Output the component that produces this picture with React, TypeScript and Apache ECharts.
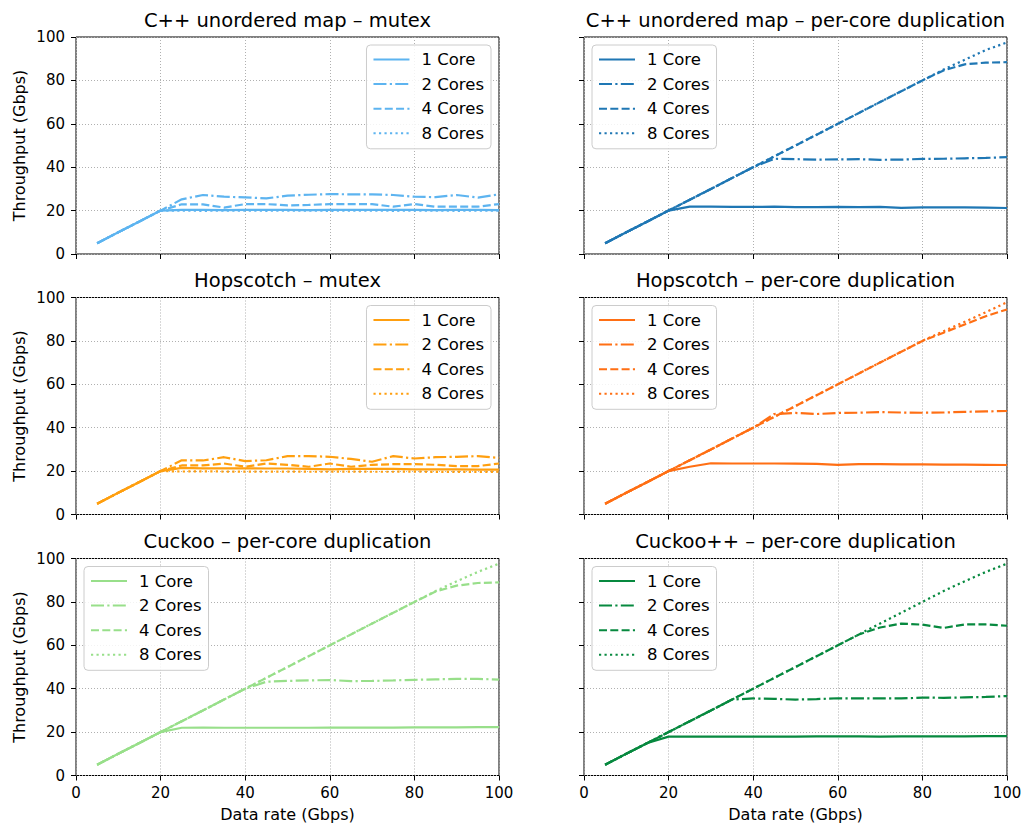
import React, { useEffect, useRef } from "react";
import * as echarts from "echarts";

const dataRates = [5, 10, 15, 20, 25, 30, 35, 40, 45, 50, 55, 60, 65, 70, 75, 80, 85, 90, 95, 100];
const coreLabels = ["1 Core", "2 Cores", "4 Cores", "8 Cores"];

const titles = [
  "C++ unordered map – mutex",
  "C++ unordered map – per-core duplication",
  "Hopscotch – mutex",
  "Hopscotch – per-core duplication",
  "Cuckoo – per-core duplication",
  "Cuckoo++ – per-core duplication",
];

const colors = ["#5db4f0", "#1f77b4", "#ff9f0f", "#ff6f14", "#98df8a", "#07893f"];

// C++ unordered map – mutex
const cppMutex1 = [5, 10, 15, 20, 20.3, 20.3, 20.2, 20.3, 20.3, 20.3, 20.2, 20.3, 20.3, 20.3, 20.3, 20.3, 20.2, 20.3, 20.3, 20.2];
const cppMutex2 = [5, 10, 15, 20, 25.2, 27.2, 26.4, 26.1, 25.6, 26.9, 27.3, 27.6, 27.5, 27.5, 27.2, 26.4, 26.2, 27.2, 26.0, 27.5];
const cppMutex4 = [5, 10, 15, 20, 22.9, 22.9, 21.4, 23.0, 23.0, 22.4, 22.6, 23.0, 23.0, 23.0, 21.8, 23.0, 21.8, 21.8, 21.8, 23.0];
const cppMutex8 = [5, 10, 15, 20, 20.0, 19.9, 20.0, 20.0, 19.9, 20.0, 20.0, 19.9, 20.0, 20.0, 19.9, 20.0, 20.0, 19.9, 20.0, 20.0];

// C++ unordered map – per-core duplication
const cppDup1 = [5, 10, 15, 20, 21.8, 21.8, 21.7, 21.7, 21.8, 21.6, 21.6, 21.7, 21.6, 21.7, 21.3, 21.5, 21.5, 21.5, 21.4, 21.2];
const cppDup2 = [5, 10, 15, 20, 25, 30, 35, 40, 43.9, 43.7, 43.5, 43.6, 43.7, 43.4, 43.5, 43.8, 43.9, 44.1, 44.3, 44.6];
const cppDup4 = [5, 10, 15, 20, 25, 30, 35, 40, 45, 50, 55, 60, 65, 70, 75, 80, 84.6, 87.4, 88.2, 88.4];
const cppDup8 = [5, 10, 15, 20, 25, 30, 35, 40, 45, 50, 55, 60, 65, 70, 75, 80, 85, 89.5, 94, 97.5];

// Hopscotch – mutex
const hopMutex1 = [5, 10, 15, 20, 21.5, 21.3, 21.3, 21.3, 21.2, 21.2, 21.0, 20.8, 21.0, 21.0, 21.0, 20.8, 20.8, 20.8, 20.7, 20.7];
const hopMutex2 = [5, 10, 15, 20, 25.0, 24.9, 26.4, 24.6, 25.0, 26.9, 26.9, 26.6, 25.6, 24.3, 26.9, 25.8, 26.4, 26.6, 26.9, 26.1];
const hopMutex4 = [5, 10, 15, 20, 22.6, 22.6, 23.5, 22.0, 23.5, 22.9, 22.0, 23.5, 22.0, 22.9, 23.2, 23.2, 22.9, 22.3, 22.3, 23.5];
const hopMutex8 = [5, 10, 15, 20, 19.8, 19.9, 19.8, 19.8, 19.7, 19.8, 19.7, 19.7, 19.8, 19.7, 19.7, 19.8, 19.6, 19.6, 19.6, 19.7];

// Hopscotch – per-core duplication
const hopDup1 = [5, 10, 15, 20, 22.0, 23.6, 23.5, 23.5, 23.5, 23.4, 23.3, 22.9, 23.2, 23.2, 23.1, 23.1, 23.0, 23.0, 22.9, 22.8];
const hopDup2 = [5, 10, 15, 20, 25, 30, 35, 40, 46.3, 46.8, 46.3, 46.8, 46.9, 47.2, 47.0, 46.9, 47.0, 47.3, 47.5, 47.7];
const hopDup4 = [5, 10, 15, 20, 25, 30, 35, 40, 45, 50, 55, 60, 65, 70, 75, 80, 83.8, 87.6, 91.4, 94.5];
const hopDup8 = [5, 10, 15, 20, 25, 30, 35, 40, 45, 50, 55, 60, 65, 70, 75, 80, 84.5, 88.8, 93.2, 97.8];

// Cuckoo – per-core duplication
const cuckoo1 = [5, 10, 15, 20, 22.0, 22.1, 22.0, 22.0, 22.0, 22.0, 22.0, 22.1, 22.1, 22.1, 22.1, 22.2, 22.2, 22.2, 22.3, 22.3];
const cuckoo2 = [5, 10, 15, 20, 25, 30, 35, 40, 43.2, 43.6, 43.8, 44.0, 43.5, 43.6, 43.8, 44.1, 44.3, 44.5, 44.5, 44.2];
const cuckoo4 = [5, 10, 15, 20, 25, 30, 35, 40, 45, 50, 55, 60, 65, 70, 75, 80, 84.8, 87.5, 88.7, 89.0];
const cuckoo8 = [5, 10, 15, 20, 25, 30, 35, 40, 45, 50, 55, 60, 65, 70, 75, 80, 85, 89.5, 93.8, 97.6];

// Cuckoo++ – per-core duplication
const cuckooPP1 = [5, 10, 15, 17.9, 17.9, 17.9, 17.9, 17.9, 17.9, 17.9, 18.0, 18.0, 18.0, 17.9, 18.0, 18.0, 18.0, 18.0, 18.1, 18.1];
const cuckooPP2 = [5, 10, 15, 20, 25, 30, 35, 35.5, 35.3, 35.0, 35.2, 35.6, 35.5, 35.5, 35.5, 35.9, 35.8, 36.0, 36.2, 36.6];
const cuckooPP4 = [5, 10, 15, 20, 25, 30, 35, 40, 45, 50, 55, 60, 65, 68.2, 70.0, 69.5, 68.0, 69.6, 69.6, 69.0];
const cuckooPP8 = [5, 10, 15, 20, 25, 30, 35, 40, 45, 50, 55, 60, 65, 70, 75, 80, 85, 89.5, 93.8, 97.6];

const panels = [
  [cppMutex1, cppMutex2, cppMutex4, cppMutex8],
  [cppDup1, cppDup2, cppDup4, cppDup8],
  [hopMutex1, hopMutex2, hopMutex4, hopMutex8],
  [hopDup1, hopDup2, hopDup4, hopDup8],
  [cuckoo1, cuckoo2, cuckoo4, cuckoo8],
  [cuckooPP1, cuckooPP2, cuckooPP4, cuckooPP8],
];

const FONT = "DejaVu Sans";
const dashes: any[] = ["solid", [13, 3.3, 2.2, 3.3], [8, 3.3], [2.2, 3.3]];

const colLeft = [76, 584];
const gridW = 423;
const rowTop = [37, 297.5, 558.5];
const gridH = 217;

export default function App() {
  const ref = useRef<HTMLDivElement>(null);
  useEffect(() => {
    if (!ref.current) return;
    const chart = echarts.init(ref.current, undefined, { renderer: "svg" });
    const grids: any[] = [];
    const xAxes: any[] = [];
    const yAxes: any[] = [];
    const series: any[] = [];
    const legends: any[] = [];
    const graphics: any[] = [];
    panels.forEach((lines, i) => {
      const col = i % 2;
      const row = Math.floor(i / 2);
      grids.push({
        left: colLeft[col],
        top: rowTop[row],
        width: gridW,
        height: gridH,
        show: true,
        borderColor: "#000",
        borderWidth: 1,
        backgroundColor: "transparent",
        containLabel: false,
      });
      const bottom = row === 2;
      xAxes.push({
        type: "value",
        gridIndex: i,
        min: 0,
        max: 100,
        interval: 20,
        axisLine: { show: false },
        axisTick: { show: true, inside: false, length: 5, lineStyle: { color: "#000", width: 1 } },
        axisLabel: { show: bottom, fontSize: 15, color: "#000", margin: 10, fontFamily: FONT },
        splitLine: { show: true, lineStyle: { color: "#b0b0b0", type: [1, 2], width: 1 } },
        name: bottom ? "Data rate (Gbps)" : "",
        nameLocation: "middle",
        nameGap: 31,
        nameTextStyle: { fontSize: 16, color: "#000", fontFamily: FONT },
      });
      yAxes.push({
        type: "value",
        gridIndex: i,
        min: 0,
        max: 100,
        interval: 20,
        axisLine: { show: false },
        axisTick: { show: true, inside: false, length: 5, lineStyle: { color: "#000", width: 1 } },
        axisLabel: { show: col === 0, fontSize: 15, color: "#000", margin: 11, fontFamily: FONT },
        splitLine: { show: true, lineStyle: { color: "#b0b0b0", type: [1, 2], width: 1 } },
        name: col === 0 ? "Throughput (Gbps)" : "",
        nameLocation: "middle",
        nameGap: 49,
        nameTextStyle: { fontSize: 16, color: "#000", fontFamily: FONT },
      });
      lines.forEach((vals, k) => {
        series.push({
          type: "line",
          name: `${coreLabels[k]}|${i}`,
          xAxisIndex: i,
          yAxisIndex: i,
          data: dataRates.map((x, j) => [x, vals[j]]),
          symbol: "none",
          showSymbol: false,
          lineStyle: { color: colors[i], width: 2.2, type: dashes[k] },
          itemStyle: { color: colors[i] },
          z: 3,
        });
      });
      const rightSide = row < 2 && col === 0;
      const leg: any = {
        orient: "vertical",
        top: rowTop[row] + 8,
        data: coreLabels.map((l) => `${l}|${i}`),
        formatter: (name: string) => name.split("|")[0],
        itemWidth: 36,
        itemHeight: 14,
        itemGap: 7.6,
        padding: [6, 7, 7, 6],
        backgroundColor: "rgba(255,255,255,0.85)",
        borderColor: "#cccccc",
        borderWidth: 1,
        borderRadius: 4,
        selectedMode: false,
        itemStyle: { opacity: 0 },
        textStyle: { fontSize: 16.5, color: "#000", fontFamily: FONT, padding: [0, 0, 0, 7] },
      };
      if (rightSide) leg.right = 1027 - (colLeft[col] + gridW) + 8;
      else leg.left = colLeft[col] + 8;
      legends.push(leg);
      graphics.push({
        type: "text",
        x: colLeft[col] + gridW / 2,
        y: rowTop[row] - 17,
        style: {
          text: titles[i],
          fontSize: 19.5,
          fontFamily: FONT,
          fill: "#000",
          align: "center",
          verticalAlign: "middle",
        },
      });
    });
    chart.setOption({
      animation: false,
      backgroundColor: "#fff",
      textStyle: { fontFamily: FONT },
      grid: grids,
      xAxis: xAxes,
      yAxis: yAxes,
      legend: legends,
      series,
      graphic: graphics,
    });
    return () => chart.dispose();
  }, []);
  return (
    <div
      ref={ref}
      style={{ position: "absolute", left: 0, top: 0, width: 1027, height: 833, background: "#fff" }}
    />
  );
}
